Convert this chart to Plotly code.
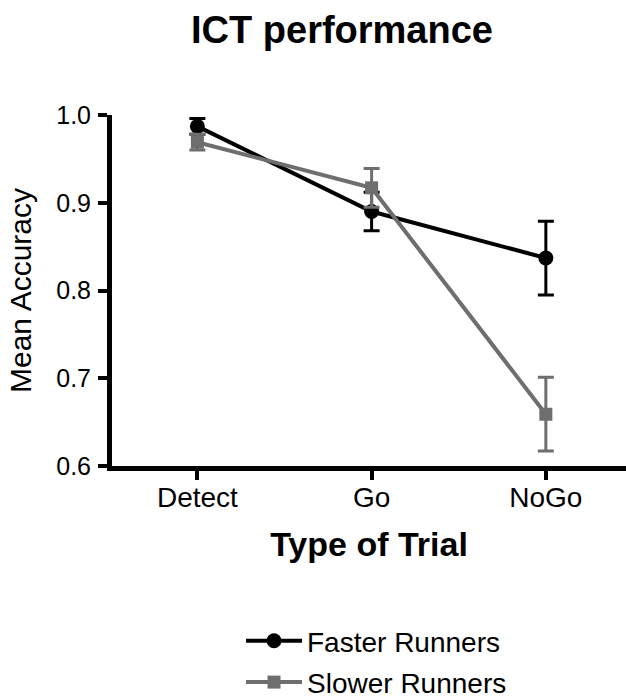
import plotly.graph_objects as go

categories = ["Detect", "Go", "NoGo"]
faster_mean = [0.987, 0.890, 0.837]
faster_err = [0.009, 0.022, 0.042]
slower_mean = [0.969, 0.917, 0.659]
slower_err = [0.009, 0.022, 0.042]
y_ticks = [0.6, 0.7, 0.8, 0.9, 1.0]

BLACK = "#000000"
GRAY = "#6e6e6e"
FONT = "Liberation Sans, Arial, sans-serif"

fig = go.Figure()
fig.add_trace(go.Scatter(
    x=categories, y=faster_mean, name="Faster Runners", mode="lines+markers",
    line=dict(color=BLACK, width=4),
    marker=dict(symbol="circle", size=15, color=BLACK),
    error_y=dict(type="data", array=faster_err, color=BLACK, thickness=3, width=8),
    cliponaxis=False, legendgroup="a",
))
fig.add_trace(go.Scatter(
    x=categories, y=slower_mean, name="Slower Runners", mode="lines+markers",
    line=dict(color=GRAY, width=4),
    marker=dict(symbol="square", size=13, color=GRAY),
    error_y=dict(type="data", array=slower_err, color=GRAY, thickness=3, width=8),
    cliponaxis=False, legendgroup="b",
))

fig.update_layout(
    width=626, height=698,
    margin=dict(l=112, r=0, t=115, b=232),
    paper_bgcolor="white", plot_bgcolor="white",
    font=dict(family=FONT, color="black", size=28),
    title=dict(text="<b>ICT performance</b>", x=342 / 626, xref="container", xanchor="center",
               y=1 - 30 / 698, yanchor="middle", font=dict(size=38)),
    xaxis=dict(
        type="category", range=[-0.49, 2.46],
        showline=True, linecolor="black", linewidth=5,
        ticks="outside", ticklen=9, tickwidth=4, tickcolor="black",
        ticklabelstandoff=-7,
        showgrid=False, zeroline=False,
        tickfont=dict(size=28),
        title=dict(text="<b>Type of Trial</b>", font=dict(size=34), standoff=22),
    ),
    yaxis=dict(
        range=[0.6, 1.0], tickvals=y_ticks, tickformat=".1f",
        showline=True, linecolor="black", linewidth=5,
        ticks="outside", ticklen=9, tickwidth=4, tickcolor="black",
        ticklabelstandoff=2,
        showgrid=False, zeroline=False,
        tickfont=dict(size=25),
        title=dict(text="Mean Accuracy", font=dict(size=30), standoff=17),
    ),
    showlegend=True,
    legend=dict(
        x=0.251, y=1 - 616 / 698, xref="paper", yref="container",
        xanchor="left", yanchor="top",
        font=dict(size=28), tracegroupgap=2, itemwidth=56,
        bgcolor="rgba(0,0,0,0)",
    ),
)

fig.write_html("out.html", config={"displayModeBar": False},
               post_script="document.body.style.margin='0';")
